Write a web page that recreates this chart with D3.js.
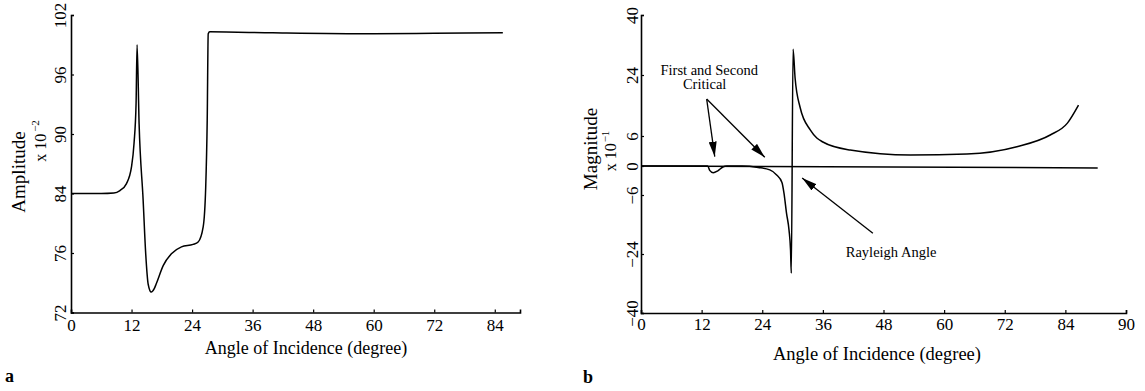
<!DOCTYPE html>
<html><head><meta charset="utf-8">
<script src="https://cdn.jsdelivr.net/npm/d3@7"></script>
<style>
body{margin:0;background:#fff;}
svg text{font-family:"Liberation Serif","Times New Roman",serif;fill:#000;}
</style>
</head><body>
<svg id="chart" width="1145" height="391"></svg>
<script>
// ---------- Panel a data ----------
const anglesA = [0, 6, 8.5, 9.7, 11.0, 12.0, 12.5, 12.9, 13.1, 13.5, 14.3, 14.8, 15.3, 15.9, 16.5, 16.9, 18.3, 19.9, 21.9, 24.2, 25.2, 26.2, 26.7, 27.0, 27.2, 27.5, 40, 60, 72, 85.6];
const amplitudeA = [84, 84, 84.05, 84.3, 85.0, 86.7, 89.1, 93.1, 99.0, 91.0, 83.1, 76.0, 73.9, 73.37, 73.6, 73.93, 75.17, 75.95, 76.83, 77.16, 77.47, 79.5, 84.6, 91.4, 100.1, 100.3, 100.2, 100.1, 100.15, 100.2];
const xTicksA = [0, 12, 24, 36, 48, 60, 72, 84];
const yTicksA = [72, 76, 84, 90, 96, 102];
const xMaxA = 89;

// ---------- Panel b data ----------
const anglesB = [0, 12.5, 13.2, 13.6, 14.3, 15.2, 16.2, 17, 20, 23.2, 25.5, 26.8, 27.9, 28.3, 28.8, 29.3, 29.6, 29.75, 30.1, 30.5, 31.5, 33.5, 34.8, 36.0, 41.4, 53.3, 64.5, 74.4, 81.0, 84.2, 85.3];
const magnitudeB = [0, 0, 0, -0.9, -1.4, -1.0, -0.2, 0, 0, -0.3, -0.8, -1.8, -3.4, -5.6, -11.5, -16.7, -22.8, -29.2, 30.9, 23.1, 14.4, 7.8, 5.6, 4.8, 3.2, 2.2, 2.4, 3.86, 6.3, 9.8, 15.1];
const zeroAnglesB = [0, 87.2];
const zeroValuesB = [0, -0.4];
const xTicksB = [0, 12, 24, 36, 48, 60, 72, 84, 90];
const yTicksB = [-40, -24, -6, 0, 6, 24, 40];
const annotTexts = ["First and Second", "Critical", "Rayleigh Angle"];
const annotTextPos = [[13.5, 24.0], [12.6, 19.8], [49.5, -24.8]];
const arrowFrom = [[13.0, 16.9], [13.0, 16.9], [45.9, -17.7]];
const arrowTo = [[14.6, 1.86], [24.5, 1.74], [31.9, -2.5]];

const svg = d3.select("#chart");
const fmt = v => (v < 0 ? "\u2212" + Math.abs(v) : String(v));

svg.append("defs").append("marker")
  .attr("id", "ah").attr("viewBox", "0 0 15 8").attr("refX", 15).attr("refY", 4)
  .attr("markerWidth", 15).attr("markerHeight", 8).attr("markerUnits", "userSpaceOnUse")
  .attr("orient", "auto")
  .append("path").attr("d", "M0,0 L15,4 L0,8 Z").attr("fill", "#000");

function evenRange(n, a, b) { return d3.range(n).map(i => a + (b - a) * i / (n - 1)); }

// ================= Panel a =================
const xA = d3.scaleLinear().domain([0, xMaxA]).range([71, 520]);
const yA = d3.scaleLinear().domain(yTicksA).range(evenRange(yTicksA.length, 312.5, 15));

const gA = svg.append("g");
const axA = gA.append("g").attr("transform", `translate(0,${yA(72)})`)
  .call(d3.axisBottom(xA).tickValues(xTicksA).tickSize(-3).tickPadding(6).tickFormat(fmt));
const ayA = gA.append("g").attr("transform", `translate(${xA(0)},0)`)
  .call(d3.axisLeft(yA).tickValues(yTicksA).tickSize(-3).tickFormat(fmt));
[axA, ayA].forEach(a => {
  a.select(".domain").attr("stroke", "#000").attr("stroke-width", 1.6);
  a.selectAll(".tick line").attr("stroke", "#000").attr("stroke-width", 1.2);
  a.selectAll("text").attr("font-size", 17).attr("font-family", "Liberation Serif").attr("fill", "#000");
});
ayA.selectAll(".tick text").attr("transform", "rotate(-90)").attr("x", 0).attr("y", -5).attr("dy", 0).attr("text-anchor", "middle");

gA.append("path")
  .datum(anglesA.map((a, i) => [a, amplitudeA[i]]))
  .attr("fill", "none").attr("stroke", "#000").attr("stroke-width", 1.5)
  .attr("d", d3.line().x(d => xA(d[0])).y(d => yA(d[1])).curve(d3.curveMonotoneX));

gA.append("text").attr("x", 306).attr("y", 354).attr("text-anchor", "middle").attr("font-size", 18)
  .text("Angle of Incidence (degree)");
gA.append("text").attr("transform", "translate(25,172) rotate(-90)").attr("text-anchor", "middle").attr("font-size", 19)
  .text("Amplitude");
const sA = gA.append("text").attr("transform", "translate(46,141) rotate(-90)").attr("text-anchor", "middle").attr("font-size", 16);
sA.append("tspan").text("x 10");
sA.append("tspan").attr("font-size", 11).attr("dy", -7).attr("dx", 2).text("\u22122");
gA.append("text").attr("x", 5).attr("y", 382).attr("font-size", 18).attr("font-weight", "bold").text("a");

// ================= Panel b =================
const xB = d3.scaleLinear().domain(xTicksB).range(evenRange(xTicksB.length, 641, 1126));
const yB = d3.scaleLinear().domain(yTicksB).range([313, 254, 195, 166, 136, 75, 15]);

const gB = svg.append("g");
const axB = gB.append("g").attr("transform", `translate(0,${yB(-40)})`)
  .call(d3.axisBottom(xB).tickValues(xTicksB).tickSize(-3).tickPadding(5).tickFormat(fmt));
const ayB = gB.append("g").attr("transform", `translate(${xB(0)},0)`)
  .call(d3.axisLeft(yB).tickValues(yTicksB).tickSize(-3).tickFormat(fmt));
[axB, ayB].forEach(a => {
  a.select(".domain").attr("stroke", "#000").attr("stroke-width", 1.6);
  a.selectAll(".tick line").attr("stroke", "#000").attr("stroke-width", 1.2);
  a.selectAll("text").attr("font-size", 17).attr("font-family", "Liberation Serif").attr("fill", "#000");
});
ayB.selectAll(".tick text").attr("transform", "rotate(-90)").attr("x", 0).attr("y", -3).attr("dy", 0).attr("text-anchor", "middle");

gB.append("path")
  .datum(zeroAnglesB.map((a, i) => [a, zeroValuesB[i]]))
  .attr("fill", "none").attr("stroke", "#000").attr("stroke-width", 1.5)
  .attr("d", d3.line().x(d => xB(d[0])).y(d => yB(d[1])));
gB.append("path")
  .datum(anglesB.map((a, i) => [a, magnitudeB[i]]))
  .attr("fill", "none").attr("stroke", "#000").attr("stroke-width", 1.5)
  .attr("d", d3.line().x(d => xB(d[0])).y(d => yB(d[1])).curve(d3.curveMonotoneX));

arrowFrom.forEach((f, i) => {
  gB.append("line")
    .attr("x1", xB(f[0])).attr("y1", yB(f[1]))
    .attr("x2", xB(arrowTo[i][0])).attr("y2", yB(arrowTo[i][1]))
    .attr("stroke", "#000").attr("stroke-width", 1.3).attr("marker-end", "url(#ah)");
});
annotTexts.forEach((t, i) => {
  gB.append("text").attr("x", xB(annotTextPos[i][0])).attr("y", yB(annotTextPos[i][1]))
    .attr("text-anchor", "middle").attr("font-size", 14.5).text(t);
});

gB.append("text").attr("x", 877).attr("y", 360).attr("text-anchor", "middle").attr("font-size", 18.5)
  .text("Angle of Incidence (degree)");
gB.append("text").attr("transform", "translate(597,149) rotate(-90)").attr("text-anchor", "middle").attr("font-size", 19)
  .text("Magnitude");
const sB = gB.append("text").attr("transform", "translate(616,151) rotate(-90)").attr("text-anchor", "middle").attr("font-size", 16);
sB.append("tspan").text("x 10");
sB.append("tspan").attr("font-size", 11).attr("dy", -7).attr("dx", 1).text("\u22121");
gB.append("text").attr("x", 583).attr("y", 383).attr("font-size", 18).attr("font-weight", "bold").text("b");
</script>
</body></html>
